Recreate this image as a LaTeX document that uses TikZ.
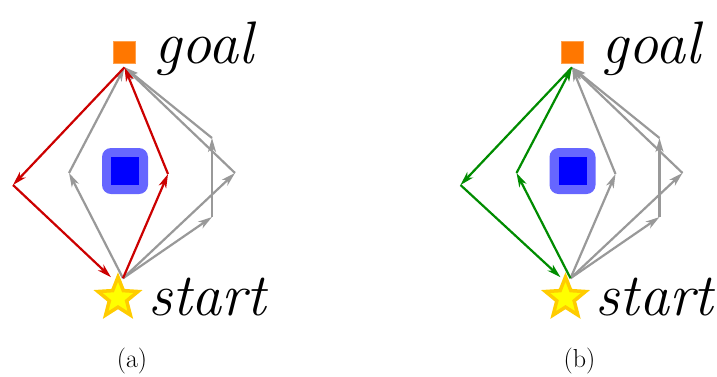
\documentclass[tikz,border=0pt]{standalone}
\usepackage{fontspec}
\usepackage{xcolor}
\usepackage{tikz}
\usetikzlibrary{shapes.geometric,arrows.meta,positioning,calc}

\definecolor{goalorange}{RGB}{255,119,0}
\definecolor{obsblue}{RGB}{102,102,255}
\definecolor{pathred}{RGB}{204,0,0}
\definecolor{pathgreen}{RGB}{0,140,0}
\definecolor{pathgray}{RGB}{153,153,153}
\definecolor{stargold}{RGB}{255,204,0}
\definecolor{staryellow}{RGB}{255,255,0}

\begin{document}
\begin{tikzpicture}[
  x=1pt, y=-1pt,
  goalbox/.style={fill=goalorange, draw=goalorange!70!white, line width=0.6pt,
                  minimum size=22pt, inner sep=0pt},
  obsouter/.style={fill=obsblue, rounded corners=9pt, minimum size=46pt, inner sep=0pt},
  obsinner/.style={fill=blue, minimum size=28pt, inner sep=0pt},
  startstar/.style={star, star points=5, star point ratio=2.3, minimum size=42pt,
                    inner sep=0pt, fill=staryellow, draw=stargold, line width=3.5pt},
  lbl/.style={font=\fontsize{60}{62}\selectfont\itshape, inner sep=0pt, anchor=base west},
  captext/.style={font=\fontsize{26}{28}\selectfont, inner sep=0pt, anchor=base},
  ar/.style={-{Stealth[length=14pt, width=8pt, inset=4pt]}, line width=2.2pt},
  gr/.style={ar, pathgray},
  rd/.style={ar, pathred},
  gn/.style={ar, pathgreen}
]
  \useasboundingbox (0,0) rectangle (717,376);

  % (a)
  \node[goalbox] (goalA) at (124.5,52) {};
  \node[obsouter] (obsA) at (125,171) {};
  \node[obsinner] (obsAin) at (obsA) {};
  \node[startstar] (starA) at (118,298) {};
  \node[lbl] (goalAtxt) at (154,63) {goal};
  \node[lbl] (startAtxt) at (148,315) {start};
  \node[captext] (capA) at (132,367) {(a)};
  \coordinate (gA) at ([yshift=-4pt]goalA.south);
  \coordinate (sA) at ([xshift=5pt, yshift=-6pt]starA.north);
  \coordinate (sAin) at ([xshift=-7pt, yshift=-5pt]starA.north);
  \coordinate (wa1) at (13,185);
  \coordinate (wa2) at (69,173);
  \coordinate (wa3) at (168,174);
  \coordinate (wa4) at (212,217);
  \coordinate (wa5) at (212,138);
  \coordinate (wa6) at (235,173);
  \draw[gr] (sA) -- (wa2);
  \draw[gr] (wa2) -- (gA);
  \draw[gr] (sA) -- (wa4);
  \draw[gr] (wa4) -- (wa5);
  \draw[gr] (wa5) -- (gA);
  \draw[gr] (sA) -- (wa6);
  \draw[gr] (wa6) -- (gA);
  \draw[rd] (gA) -- (wa1);
  \draw[rd] (wa1) -- (sAin);
  \draw[rd] (sA) -- (wa3);
  \draw[rd] (wa3) -- (gA);

  % (b)
  \begin{scope}[xshift=447.5pt]
    \node[goalbox] (goalB) at (124.5,52) {};
    \node[obsouter] (obsB) at (125,171) {};
    \node[obsinner] (obsBin) at (obsB) {};
    \node[startstar] (starB) at (118,298) {};
    \node[lbl] (goalBtxt) at (154,63) {goal};
    \node[lbl] (startBtxt) at (148,315) {start};
    \node[captext] (capB) at (132,367) {(b)};
    \coordinate (gB) at ([yshift=-4pt]goalB.south);
    \coordinate (sB) at ([xshift=5pt, yshift=-6pt]starB.north);
    \coordinate (sBin) at ([xshift=-5pt, yshift=-5pt]starB.north);
    \coordinate (wb1) at (13,185);
    \coordinate (wb2) at (69,173);
    \coordinate (wb3) at (168,174);
    \coordinate (wb4) at (212,217);
    \coordinate (wb5) at (212,138);
    \coordinate (wb6) at (235,173);
    \draw[gr] (sB) -- (wb3);
    \draw[gr] (wb3) -- (gB);
    \draw[gr] (sB) -- (wb4);
    \draw[gr] (wb4) -- (wb5);
    \draw[gr] (wb5) -- (gB);
    \draw[gr] (sB) -- (wb6);
    \draw[gr] (wb6) -- (gB);
    \draw[gn] (gB) -- (wb1);
    \draw[gn] (wb1) -- (sBin);
    \draw[gn] (sB) -- (wb2);
    \draw[gn] (wb2) -- (gB);
  \end{scope}
\end{tikzpicture}
\end{document}
